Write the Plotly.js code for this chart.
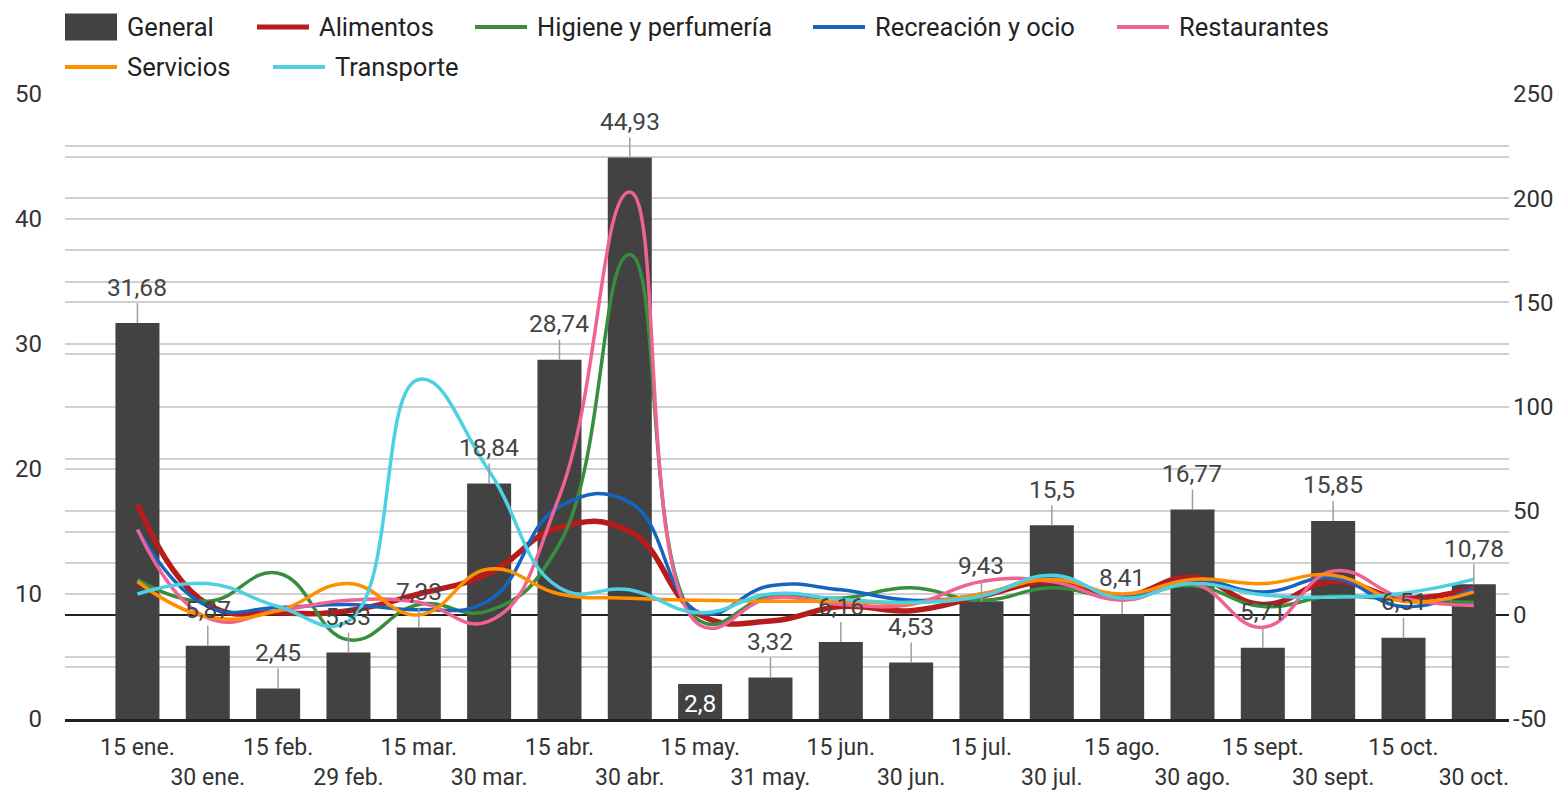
<!DOCTYPE html>
<html>
<head>
<meta charset="utf-8">
<script src="https://cdn.plot.ly/plotly-3.0.1.min.js"></script>
<style>
html,body{margin:0;padding:0;background:#fff;}
#chart{width:1557px;height:790px;}
</style>
</head>
<body>
<div id="chart"></div>
<script>
// ---------- data ----------
const dates = ['15 ene.','30 ene.','15 feb.','29 feb.','15 mar.','30 mar.','15 abr.','30 abr.','15 may.','31 may.',
               '15 jun.','30 jun.','15 jul.','30 jul.','15 ago.','30 ago.','15 sept.','30 sept.','15 oct.','30 oct.'];
const general = [31.68, 5.87, 2.45, 5.33, 7.33, 18.84, 28.74, 44.93, 2.8, 3.32,
                 6.16, 4.53, 9.43, 15.5, 8.41, 16.77, 5.71, 15.85, 6.51, 10.78];
const alimentos    = [53, 5, 1, 2, 10, 20, 42, 40, 0, -3, 4, 2, 9, 16, 9, 18, 5, 16, 8, 13];
const higiene      = [17, 6.5, 20, -12, 5, 2, 34, 173, -3, 9, 8, 13, 7, 13, 8, 14, 4, 9, 7, 6];
const recreacion   = [41, 4, 3.5, 5, 2.5, 7, 52, 54, 1, 14, 12, 7, 10, 18, 9, 17, 11, 17.6, 4, 13];
const restaurantes = [41, -1.5, 2, 7, 6, -3, 57, 203, -5, 8, 5, 5, 16, 16, 7, 15, -6, 21, 8, 4.5];
const servicios    = [16, -1, 2, 15, 0, 22, 10, 8, 7, 6.5, 6.5, 5.6, 10, 17, 10, 17, 15, 19, 6.4, 11];
const transporte   = [10, 15, 4, -3, 113, 69, 13, 12, 1, 10, 7.5, 6, 9, 19, 8, 15, 9.6, 8.5, 10.4, 17];

const barName = 'General';
const seriesNames  = ['Alimentos','Higiene y perfumería','Recreación y ocio','Restaurantes','Servicios','Transporte'];
const seriesValues = [alimentos, higiene, recreacion, restaurantes, servicios, transporte];
const leftTicks  = [0, 10, 20, 30, 40, 50];
const rightTicks = [-50, 0, 50, 100, 150, 200, 250];
const insideLabels = ['15 may.'];

// ---------- styles ----------
const barColor = '#424242';
const seriesColors = ['#b71c1c','#388e3c','#1565c0','#f06292','#ff8f00','#4dd0e1'];
const seriesWidths = [5.5, 3.5, 3.5, 3.5, 3.5, 3.5];
const FONT = 'Roboto, Arial, sans-serif';
const gridColor = '#d0d0d0';
const axisBlack = '#212121';

const W = 1557, H = 790, L = 65, R = 48, T = 94, B = 71;
const PW = W - L - R, PH = H - T - B;
const px2x = p => (p - L) / PW;
const py2y = p => (H - B - p) / PH;

// ---------- traces ----------
const traces = [{
  type: 'bar', x: dates, y: general, name: barName,
  marker: {color: barColor}, yaxis: 'y', hoverinfo: 'x+y'
}];
seriesNames.forEach((n, k) => {
  traces.push({
    type: 'scatter', mode: 'lines', x: dates, y: seriesValues[k], name: n, yaxis: 'y2',
    line: {color: seriesColors[k], width: seriesWidths[k], shape: 'spline', smoothing: 1.3}
  });
});

// ---------- bar labels ----------
const fmt = v => String(v).replace('.', ',');
const annotations = [];
general.forEach((v, i) => {
  if (insideLabels.includes(dates[i])) {
    annotations.push({x: dates[i], y: v, xref: 'x', yref: 'y', text: fmt(v), showarrow: false,
      yanchor: 'top', yshift: -3, font: {family: FONT, size: 24.5, color: '#ffffff'}});
  } else {
    annotations.push({x: dates[i], y: v, xref: 'x', yref: 'y', text: fmt(v), showarrow: true,
      arrowhead: 0, arrowwidth: 1.5, arrowcolor: '#9e9e9e', ax: 0, ay: -36, standoff: 0,
      font: {family: FONT, size: 24.5, color: '#444444'}});
  }
});

// ---------- custom legend ----------
const shapes = [];
const legendItems = [
  {name: barName, kind: 'box', color: barColor, x: 65, y: 27},
  {name: seriesNames[0], kind: 'line', color: seriesColors[0], x: 257, y: 27, w: 5},
  {name: seriesNames[1], kind: 'line', color: seriesColors[1], x: 475, y: 27, w: 4},
  {name: seriesNames[2], kind: 'line', color: seriesColors[2], x: 813, y: 27, w: 4},
  {name: seriesNames[3], kind: 'line', color: seriesColors[3], x: 1117, y: 27, w: 4},
  {name: seriesNames[4], kind: 'line', color: seriesColors[4], x: 65, y: 67, w: 4},
  {name: seriesNames[5], kind: 'line', color: seriesColors[5], x: 273, y: 67, w: 4}
];
legendItems.forEach(it => {
  if (it.kind === 'box') {
    shapes.push({type: 'rect', xref: 'paper', yref: 'paper', x0: px2x(it.x), x1: px2x(it.x + 52),
      y0: py2y(it.y + 13.5), y1: py2y(it.y - 13.5), fillcolor: it.color, line: {width: 0}});
  } else {
    shapes.push({type: 'line', xref: 'paper', yref: 'paper', x0: px2x(it.x), x1: px2x(it.x + 52),
      y0: py2y(it.y), y1: py2y(it.y), line: {color: it.color, width: it.w}});
  }
  annotations.push({xref: 'paper', yref: 'paper', x: px2x(it.x + 60), y: py2y(it.y), xanchor: 'left',
    yanchor: 'middle', text: it.name, showarrow: false, font: {family: FONT, size: 25.5, color: '#222222'}});
});

// ---------- layout ----------
const ticktext = dates.map((d, i) => (i % 2 ? '<br>' + d : d));
const layout = {
  width: W, height: H,
  margin: {l: L, r: R, t: T, b: B, pad: 0},
  paper_bgcolor: '#ffffff', plot_bgcolor: '#ffffff',
  showlegend: false,
  font: {family: FONT, size: 23, color: '#333333'},
  bargap: 0.374,
  xaxis: {
    type: 'category', range: [-1.03, 19.5], tickmode: 'array', tickvals: dates, ticktext: ticktext,
    showgrid: false, showline: true, linecolor: axisBlack, linewidth: 2.5, ticks: '',
    tickfont: {family: FONT, size: 23, color: '#333333'}, ticklabelstandoff: 6, tickangle: 0,
    fixedrange: true
  },
  yaxis: {
    range: [0, 50], tickmode: 'array', tickvals: leftTicks, ticktext: leftTicks.map(String),
    showgrid: true, gridcolor: gridColor, gridwidth: 2,
    minor: {dtick: 5, tick0: 0, showgrid: true, gridcolor: gridColor, gridwidth: 2},
    zeroline: false, showline: false, ticks: '',
    tickfont: {family: FONT, size: 24, color: '#333333'}, ticklabelstandoff: 22, fixedrange: true
  },
  yaxis2: {
    overlaying: 'y', side: 'right', range: [-50, 250], tickmode: 'array', tickvals: rightTicks,
    ticktext: rightTicks.map(String),
    showgrid: true, gridcolor: gridColor, gridwidth: 2,
    minor: {dtick: 25, tick0: 0, showgrid: true, gridcolor: gridColor, gridwidth: 2},
    zeroline: true, zerolinecolor: axisBlack, zerolinewidth: 2.5, showline: false, ticks: '',
    tickfont: {family: FONT, size: 24, color: '#333333'}, ticklabelstandoff: 3, fixedrange: true
  },
  shapes: shapes,
  annotations: annotations
};

Plotly.newPlot('chart', traces, layout, {displayModeBar: false, staticPlot: true});
</script>
</body>
</html>
